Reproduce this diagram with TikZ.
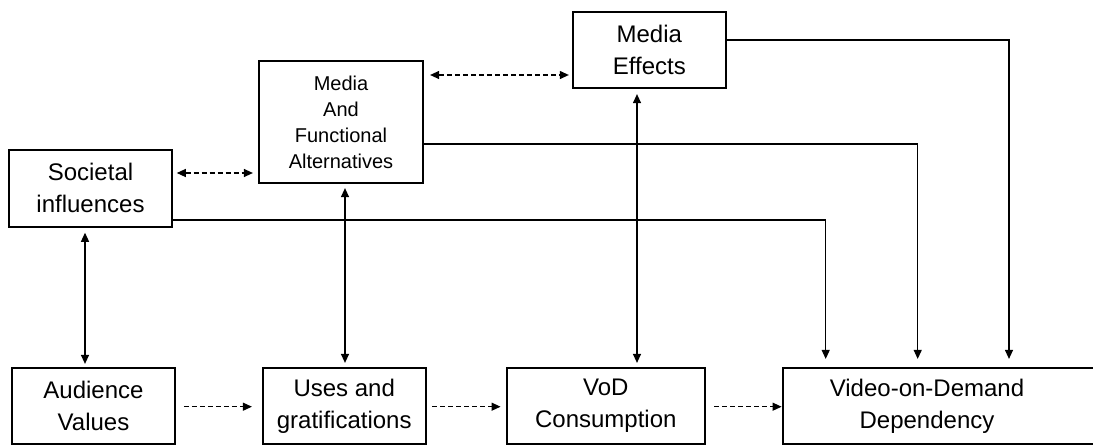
\documentclass[tikz,border=0pt]{standalone}
\usepackage{fontspec}
\setmainfont{Liberation Sans}
\usetikzlibrary{arrows.meta}
\begin{document}
\begin{tikzpicture}[x=1pt,y=-1pt,
  box/.style={draw, line width=2.2pt, inner sep=0pt, align=center,
    minimum height=76pt, font=\fontsize{24}{32}\selectfont},
  tip/.tip={Triangle[length=9pt,width=8pt]},
  link/.style={line width=1.2pt, -tip},
  bilink/.style={line width=1.2pt, tip-tip},
  dashlink/.style={bilink, dash pattern=on 5pt off 3pt},
  dashone/.style={link, dash pattern=on 5pt off 3pt}]
\useasboundingbox (0,0) rectangle (1093,445);

% boxes
\node[box, minimum width=162.4pt, minimum height=76.7pt] (soc) at (90.5,188.3) {Societal\\influences};
\node[box, font=\fontsize{20}{26}\selectfont, minimum width=164pt, minimum height=122pt] (mafa) at (341,122) {Media\\And\\Functional\\Alternatives};
\node[box, minimum width=152.7pt, minimum height=76.6pt] (me) at (649.3,50) {Media\\Effects};
\node[box, minimum width=163pt] (aud) at (93.5,406) {Audience\\Values};
\node[box, minimum width=163pt] (uses) at (344.2,406) {Uses and\\gratifications};
\node[box, minimum width=198.3pt] (vod) at (605.8,406) {VoD\\Consumption};
\node[box, minimum width=312.7pt] (vdd) at (939.65,406) {};
\node[align=center, inner sep=0pt, font=\fontsize{24}{32}\selectfont] (vddtext) at (927,406) {Video-on-Demand\\Dependency};

% dashed links
\draw[dashlink, shorten <=4pt, shorten >=5pt] (soc.east |- 0,173) -- (mafa.west |- 0,173);
\draw[dashlink, shorten <=6pt, shorten >=3pt] (mafa.east |- 0,75) -- (me.west |- 0,75);
\draw[dashone, shorten <=7.7pt, shorten >=9.7pt] (aud.east |- 0,406.7) -- (uses.west |- 0,406.7);
\draw[dashone, shorten <=5.3pt, shorten >=5pt] (uses.east |- 0,406.7) -- (vod.west |- 0,406.7);
\draw[dashone, shorten <=8pt, shorten >=0.6pt] (vod.east |- 0,406.7) -- (vdd.west |- 0,406.7);

% vertical two-way links
\draw[bilink, shorten <=5pt, shorten >=3pt] (soc.south -| 85,0) -- (aud.north -| 85,0);
\draw[bilink, shorten <=4pt, shorten >=4pt] (mafa.south -| 345,0) -- (uses.north -| 345,0);
\draw[bilink, shorten <=4.7pt, shorten >=4pt] (me.south -| 637,0) -- (vod.north -| 637,0);

% links into the dependency box
\draw[link, shorten >=8pt] (soc.east |- 0,220) -| ([xshift=-113.95pt]vdd.north);
\draw[link, shorten >=8pt] (mafa.east |- 0,144) -| ([xshift=-21.95pt]vdd.north);
\draw[link, shorten >=8pt] (me.east |- 0,40) -| ([xshift=69.35pt]vdd.north);
\end{tikzpicture}
\end{document}
